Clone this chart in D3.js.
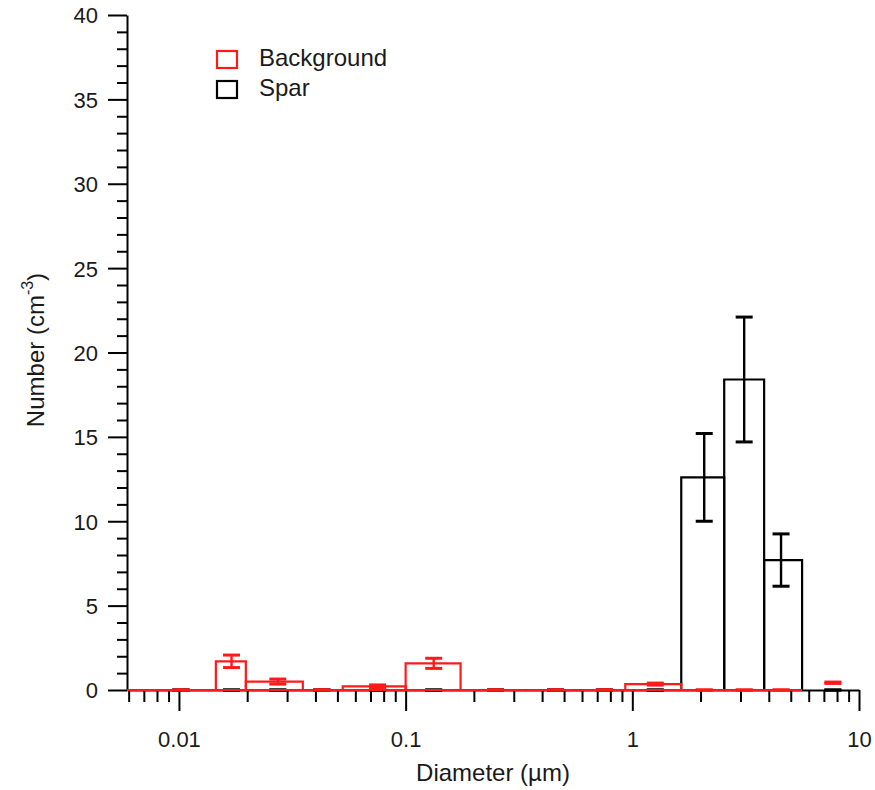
<!DOCTYPE html>
<html>
<head>
    <meta charset="utf-8">
    <title>Number size distribution</title>
    <script type="text/javascript" src="https://cdn.jsdelivr.net/npm/d3@7/dist/d3.min.js"></script>
</head>

<body style="margin:0; background:#fff;">

<style>
    text {
        font-family: "Liberation Sans", Arial, sans-serif;
        fill: #1a1a1a;
    }
    .axis path, .axis line {
        stroke: #000;
        stroke-width: 2;
    }
    .axis text {
        font-size: 22px;
    }
</style>

<script type="text/javascript">
    // diameter bins (um): bar i spans edges[i]..edges[i+1], last point has no bar
    var binEdges = [0.0059, 0.01455, 0.01973, 0.0352, 0.0528, 0.1, 0.1747, 0.337, 0.587, 0.931, 1.644, 2.543, 3.815, 5.61];
    var binCentres = [0.0102, 0.01706, 0.0273, 0.0427, 0.0752, 0.133, 0.249, 0.458, 0.753, 1.263, 2.076, 3.115, 4.53, 7.67];

    var backgroundValues = [0, 1.70, 0.50, 0, 0.22, 1.58, 0, 0, 0, 0.35, 0, 0, 0, 0.43];
    var backgroundErrors = [0, 0.37, 0.15, 0, 0.08, 0.30, 0, 0, 0, 0.06, 0, 0, 0, 0.04];

    var sparValues = [0, 0, 0, 0, 0, 0, 0, 0, 0, 0, 12.6, 18.4, 7.7, 0];
    var sparErrors = [0, 0, 0, 0, 0, 0, 0, 0, 0, 0, 2.6, 3.7, 1.55, 0];

    var xMajorTicks = [0.01, 0.1, 1, 10];
    var xTickLabels = ["0.01", "0.1", "1", "10"];
    var yMajorTicks = [0, 5, 10, 15, 20, 25, 30, 35, 40];

    var seriesNames = ["Background", "Spar"];
    var seriesColours = ["#ff1a1a", "#000000"];

    var width = 875,
        height = 790,
        plotLeft = 127,
        plotRight = 859,
        plotTop = 15,
        plotBottom = 690,
        capHalf = 8.5;

    var x = d3.scaleLog()
            .domain([0.0059, 10])
            .range([plotLeft, plotRight]),
        y = d3.scaleLinear()
            .domain([0, 40])
            .range([plotBottom, plotTop]);

    var svg = d3.select("body").append("svg")
        .attr("width", width)
        .attr("height", height);

    renderAxes();
    renderSeries(sparValues, sparErrors, seriesColours[1]);
    renderSeries(backgroundValues, backgroundErrors, seriesColours[0]);
    renderLegend();

    function renderAxes(){
        // minor x ticks 2..9 in each decade
        var minor = [];
        [0.001, 0.01, 0.1, 1].forEach(function(d){
            for (var k = 2; k <= 9; k++) {
                var v = d * k;
                if (v >= x.domain()[0] && v <= x.domain()[1]) minor.push(v);
            }
        });

        svg.append("g")
            .attr("class", "axis")
            .attr("transform", "translate(0," + plotBottom + ")")
            .call(d3.axisBottom(x).tickValues(minor).tickSize(12).tickSizeOuter(0).tickFormat(""))
            .select(".domain").remove();

        var xAxis = svg.append("g")
            .attr("class", "axis")
            .attr("transform", "translate(0," + plotBottom + ")")
            .call(d3.axisBottom(x)
                .tickValues(xMajorTicks)
                .tickSize(21)
                .tickSizeOuter(0)
                .tickFormat(function(d, i){ return xTickLabels[i]; }));
        xAxis.selectAll("text").attr("dy", null).attr("y", 57);

        var yMinor = d3.range(0, 41).filter(function(d){ return d % 5 !== 0; });
        svg.append("g")
            .attr("class", "axis")
            .attr("transform", "translate(" + plotLeft + ",0)")
            .call(d3.axisLeft(y).tickValues(yMinor).tickSize(10).tickSizeOuter(0).tickFormat(""))
            .select(".domain").remove();

        var yAxis = svg.append("g")
            .attr("class", "axis")
            .attr("transform", "translate(" + plotLeft + ",0)")
            .call(d3.axisLeft(y)
                .tickValues(yMajorTicks)
                .tickSize(19)
                .tickSizeOuter(0)
                .tickFormat(d3.format("d")));
        yAxis.selectAll("text").attr("x", -29).attr("dy", "0.36em");

        svg.append("text")
            .attr("x", (plotLeft + plotRight) / 2)
            .attr("y", 781)
            .attr("text-anchor", "middle")
            .style("font-size", "24px")
            .text("Diameter (\u00b5m)");

        var yTitle = svg.append("text")
            .attr("transform", "translate(44," + 350 + ") rotate(-90)")
            .attr("text-anchor", "middle")
            .style("font-size", "24px");
        yTitle.append("tspan").text("Number (cm");
        yTitle.append("tspan").attr("dy", -11).style("font-size", "16px").text("-3");
        yTitle.append("tspan").attr("dy", 11).text(")");
    }

    function renderSeries(values, errors, colour){
        var g = svg.append("g");
        var bars = d3.range(binEdges.length - 1);

        // paths rather than rects so zero-height bars still draw along the baseline
        g.selectAll("path.bar")
            .data(bars)
            .enter().append("path")
            .attr("class", "bar")
            .attr("d", function(i){
                var x0 = x(binEdges[i]), x1 = x(binEdges[i + 1]);
                return "M" + x0 + "," + y(0) + "V" + y(values[i]) + "H" + x1 + "V" + y(0) + "Z";
            })
            .attr("fill", "none")
            .attr("stroke", colour)
            .attr("stroke-width", 2.2);

        var err = g.selectAll("g.err")
            .data(binCentres)
            .enter().append("g")
            .attr("class", "err")
            .attr("stroke", colour)
            .attr("stroke-width", 2.4);

        err.append("line")
            .attr("x1", function(d){ return x(d); })
            .attr("x2", function(d){ return x(d); })
            .attr("y1", function(d, i){ return y(values[i] + errors[i]); })
            .attr("y2", function(d, i){ return y(Math.max(0, values[i] - errors[i])); });

        [1, -1].forEach(function(s){
            err.append("line")
                .attr("x1", function(d){ return x(d) - capHalf; })
                .attr("x2", function(d){ return x(d) + capHalf; })
                .attr("y1", function(d, i){ return y(Math.max(0, values[i] + s * errors[i])); })
                .attr("y2", function(d, i){ return y(Math.max(0, values[i] + s * errors[i])); })
                .attr("stroke-width", 3);
        });
    }

    function renderLegend(){
        var legend = svg.append("g")
            .attr("transform", "translate(217,51)");

        var item = legend.selectAll("g")
            .data(seriesNames)
            .enter().append("g")
            .attr("transform", function(d, i){ return "translate(0," + (i * 30) + ")"; });

        item.append("rect")
            .attr("width", 20)
            .attr("height", 17)
            .attr("fill", "none")
            .attr("stroke", function(d, i){ return seriesColours[i]; })
            .attr("stroke-width", 2.2);

        item.append("text")
            .attr("x", 42)
            .attr("y", 15)
            .style("font-size", "24px")
            .text(function(d){ return d; });
    }
</script>

</body>

</html>
